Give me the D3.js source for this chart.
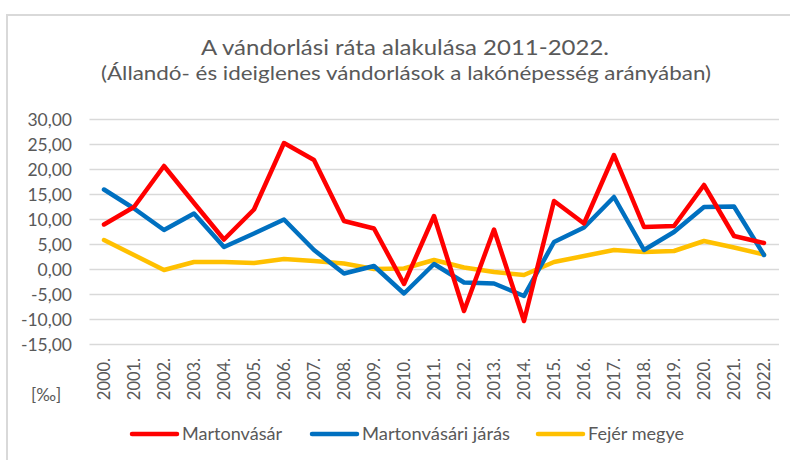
<!DOCTYPE html>
<html><head><meta charset="utf-8">
<script src="https://cdn.jsdelivr.net/npm/d3@7"></script>
<style>body{margin:0;background:#fff}svg{display:block;font-family:Lato,"Open Sans",sans-serif}</style>
</head><body><svg id="c" width="790" height="460"></svg>
<script>
const years = ["2000.","2001.","2002.","2003.","2004.","2005.","2006.","2007.","2008.","2009.","2010.","2011.","2012.","2013.","2014.","2015.","2016.","2017.","2018.","2019.","2020.","2021.","2022."];
const martonvasar = [9.0,12.5,20.7,13.3,6.0,12.0,25.3,21.9,9.7,8.2,-2.9,10.7,-8.3,8.0,-10.3,13.7,9.2,22.9,8.5,8.7,16.9,6.7,5.3];
const jaras = [16.0,12.2,7.9,11.2,4.5,7.2,10.0,3.9,-0.8,0.7,-4.8,1.1,-2.6,-2.8,-5.3,5.5,8.4,14.5,3.9,7.5,12.5,12.6,2.9];
const fejer = [5.9,2.9,-0.1,1.5,1.5,1.3,2.1,1.7,1.2,0.1,0.2,1.9,0.4,-0.5,-1.1,1.5,2.7,3.9,3.5,3.7,5.7,4.4,3.0];
const seriesNames = ["Martonvásár","Martonvásári járás","Fejér megye"];
const yTicks = [-15,-10,-5,0,5,10,15,20,25,30];
const title = "A vándorlási ráta alakulása 2011-2022.";
const subtitle = "(Állandó- és ideiglenes vándorlások a lakónépesség arányában)";
const unitLabel = "[‰]";

const colors = ["#FF0000","#0070C0","#FFC000"];
const svg = d3.select("#c");
const textCol = "#595959";

// frame
svg.append("rect").attr("x",7).attr("y",15).attr("width",820).attr("height",500)
  .attr("fill","none").attr("stroke","#d9d9d9").attr("stroke-width",2);

const x = d3.scalePoint().domain(years).range([89,779]).padding(0.5);
const y = d3.scaleLinear().domain([-15,30]).range([344.5,119.5]);

// gridlines
svg.append("g").selectAll("line").data(yTicks).join("line")
  .attr("x1",89.5).attr("x2",779).attr("y1",d=>y(d)).attr("y2",d=>y(d))
  .attr("stroke","#d9d9d9").attr("stroke-width",1.5);

// y axis labels
const fmt = v => d3.format(".2f")(v).replace(".",",").replace("−","-");
svg.append("g").selectAll("text").data(yTicks).join("text")
  .attr("x",72).attr("y",d=>y(d)).attr("dy","0.36em").attr("text-anchor","end")
  .attr("font-size",17.5).attr("fill",textCol).text(fmt);

// x axis labels
svg.append("g").selectAll("text").data(years).join("text")
  .attr("transform",d=>`translate(${x(d)},358) rotate(-90)`)
  .attr("text-anchor","end").attr("dy","0.36em")
  .attr("font-size",16.5).attr("fill",textCol).text(d=>d);

// lines
const allSeries = [martonvasar, jaras, fejer];
const line = d3.line().x((d,i)=>x(years[i])).y(d=>y(d));
[2,1,0].forEach(k=>{
  svg.append("path").datum(allSeries[k]).attr("d",line)
    .attr("fill","none").attr("stroke",colors[k]).attr("stroke-width",4.5)
    .attr("stroke-linejoin","round").attr("stroke-linecap","round");
});

// titles
svg.append("text").attr("x",405).attr("y",55).attr("text-anchor","middle")
  .attr("font-size",21.5).attr("fill",textCol)
  .attr("textLength",408).attr("lengthAdjust","spacingAndGlyphs").text(title);
svg.append("text").attr("x",406).attr("y",80).attr("text-anchor","middle")
  .attr("font-size",20).attr("fill",textCol)
  .attr("textLength",610).attr("lengthAdjust","spacingAndGlyphs").text(subtitle);

// unit label
svg.append("text").attr("x",31).attr("y",401).attr("font-size",17).attr("fill",textCol).text(unitLabel);

// legend
const legX = [132,312,538];
const legW = [100,148,96];
seriesNames.forEach((n,k)=>{
  const g = svg.append("g");
  g.append("line").attr("x1",legX[k]).attr("x2",legX[k]+45).attr("y1",434).attr("y2",434)
    .attr("stroke",colors[k]).attr("stroke-width",4.5).attr("stroke-linecap","round");
  g.append("text").attr("x",legX[k]+50).attr("y",434).attr("dy","0.36em")
    .attr("font-size",18).attr("fill",textCol)
    .attr("textLength",legW[k]).attr("lengthAdjust","spacingAndGlyphs").text(n);
});
</script></body></html>
